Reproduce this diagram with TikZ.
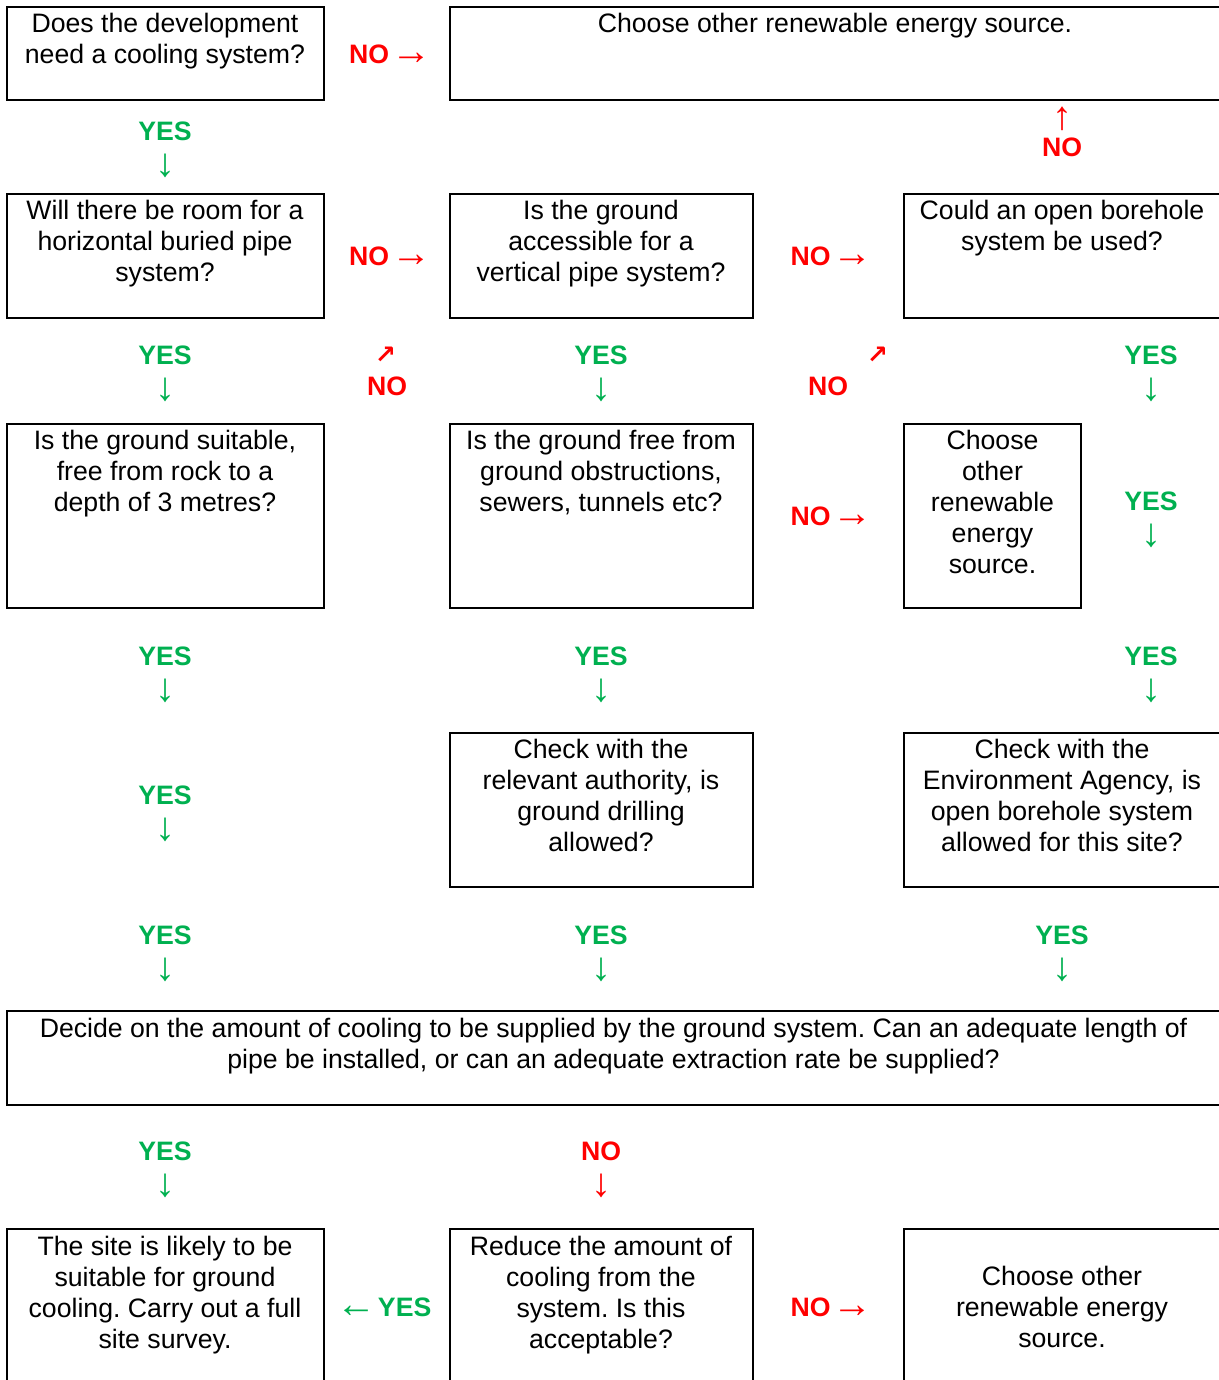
\documentclass[tikz,border=0pt]{standalone}
\usepackage{fontspec}
\setmainfont{Liberation Sans}
\newfontfamily\djv{DejaVu Sans}
\frenchspacing
\definecolor{yesgreen}{HTML}{00B050}
\definecolor{nored}{HTML}{FF0000}
\tikzset{
  box/.style={draw=black, line width=1.2pt, inner sep=0pt, outer sep=0pt, anchor=north west},
  txt/.style={font=\fontsize{20}{23.25}\selectfont, align=center, inner sep=0pt, text=black},
  yes/.style={font=\fontsize{20}{23.25}\selectfont\bfseries, align=center, inner sep=0pt, text=yesgreen},
  no/.style={font=\fontsize{20}{23.25}\selectfont\bfseries, align=center, inner sep=0pt, text=nored},
  diag/.style={font=\fontsize{19}{22}\selectfont\djv\bfseries, inner sep=0pt, text=nored}
}
\newcommand\fcbox[5]{\node[box, minimum width={(#4-#2)*0.75pt}, minimum height={(#5-#3)*0.75pt}] (#1) at (#2,#3) {};}
\newcommand\dnarr{\smash{\raisebox{-3.8pt}{\scalebox{1.5}{\mdseries ↓}}}}
\newcommand\uparr{\smash{\raisebox{-3.4pt}{\scalebox{1.5}{\mdseries ↑}}}}
\newcommand\rtarr{\smash{\raisebox{-0.8pt}{\scalebox{1.5}{\mdseries →}}}}
\newcommand\lfarr{\smash{\raisebox{-0.8pt}{\scalebox{1.5}{\mdseries ←}}}}
\newcommand\noright{NO\hspace{1.5pt}\rtarr}
\begin{document}
\begin{tikzpicture}[x=0.75pt,y=-0.75pt]
\useasboundingbox (0,0) rectangle (1219,1380);
\clip (0,0) rectangle (1219,1380);
% boxes
\fcbox{A}{7}{7}{324}{100}
\fcbox{B}{450}{7}{1221}{100}
\fcbox{C}{7}{194}{324}{318}
\fcbox{D}{450}{194}{753}{318}
\fcbox{E}{904}{194}{1221}{318}
\fcbox{F}{7}{424}{324}{608}
\fcbox{G}{450}{424}{753}{608}
\fcbox{H}{904}{424}{1081}{608}
\fcbox{I}{450}{733}{753}{887}
\fcbox{J}{904}{733}{1221}{887}
\fcbox{K}{7}{1011}{1221}{1105}
\fcbox{L}{7}{1229}{324}{1392}
\fcbox{M}{450}{1229}{753}{1392}
\fcbox{N}{904}{1229}{1221}{1392}
% box texts
\node[txt] (At) at (165,41.5) {\strut Does the development\\need a cooling system?\strut};
\node[txt] (Bt) at (835,26) {\strut Choose other renewable energy source.\strut};
\node[txt] (Ct) at (165,244.5) {\strut Will there be room for a\\horizontal buried pipe\\system?\strut};
\node[txt] (Dt) at (601,244.5) {\strut Is the ground\\accessible for a\\vertical pipe system?\strut};
\node[txt] (Et) at (1062,228.5) {\strut Could an open borehole\\system be used?\strut};
\node[txt] (Ft) at (165,474.5) {\strut Is the ground suitable,\\free from rock to a\\depth of 3 metres?\strut};
\node[txt] (Gt) at (601,474.5) {\strut Is the ground free from\\ground obstructions,\\sewers, tunnels etc?\strut};
\node[txt] (Ht) at (992.5,505) {\strut Choose\\other\\renewable\\energy\\source.\strut};
\node[txt] (It) at (601,798.5) {\strut Check with the\\relevant authority, is\\ground drilling\\allowed?\strut};
\node[txt] (Jt) at (1062,798.5) {\strut Check with the\\Environment Agency, is\\open borehole system\\allowed for this site?\strut};
\node[txt] (Kt) at (613.5,1046.5) {\strut Decide on the amount of cooling to be supplied by the ground system. Can an adequate length of\\pipe be installed, or can an adequate extraction rate be supplied?\strut};
\node[txt] (Lt) at (165,1295.5) {\strut The site is likely to be\\suitable for ground\\cooling. Carry out a full\\site survey.\strut};
\node[txt] (Mt) at (601,1295.5) {\strut Reduce the amount of\\cooling from the\\system. Is this\\acceptable?\strut};
\node[txt] (Nt) at (1062,1310) {\strut Choose other\\renewable energy\\source.\strut};
% labels
\node[no] (n1) at (390,57) {\strut\noright\strut};
\node[yes] (y1) at (165,150) {\strut YES\\\dnarr\strut};
\node[no] (n2) at (1062,134.5) {\strut\uparr\\NO\strut};
\node[no] (n3) at (390,259) {\strut\noright\strut};
\node[no] (n4) at (831.5,259) {\strut\noright\strut};
\node[yes] (y2) at (165,374) {\strut YES\\\dnarr\strut};
\node[diag] (d1) at (385.5,355) {↗};
\node[no] (n5) at (387,389) {\strut NO\strut};
\node[yes] (y3) at (601,374) {\strut YES\\\dnarr\strut};
\node[diag] (d2) at (877.5,355) {↗};
\node[no] (n6) at (828,389) {\strut NO\strut};
\node[yes] (y4) at (1151,374) {\strut YES\\\dnarr\strut};
\node[no] (n7) at (831.5,519) {\strut\noright\strut};
\node[yes] (y5) at (1151,520) {\strut YES\\\dnarr\strut};
\node[yes] (y6) at (165,675) {\strut YES\\\dnarr\strut};
\node[yes] (y7) at (601,675) {\strut YES\\\dnarr\strut};
\node[yes] (y8) at (1151,675) {\strut YES\\\dnarr\strut};
\node[yes] (y9) at (165,814) {\strut YES\\\dnarr\strut};
\node[yes] (y10) at (165,954) {\strut YES\\\dnarr\strut};
\node[yes] (y11) at (601,954) {\strut YES\\\dnarr\strut};
\node[yes] (y12) at (1062,954) {\strut YES\\\dnarr\strut};
\node[yes] (y13) at (165,1170) {\strut YES\\\dnarr\strut};
\node[no] (n8) at (601,1170) {\strut NO\\\dnarr\strut};
\node[yes] (y14) at (384,1310) {\strut\lfarr\hspace{1pt}YES\strut};
\node[no] (n9) at (831.5,1310) {\strut\noright\strut};
\end{tikzpicture}
\end{document}
